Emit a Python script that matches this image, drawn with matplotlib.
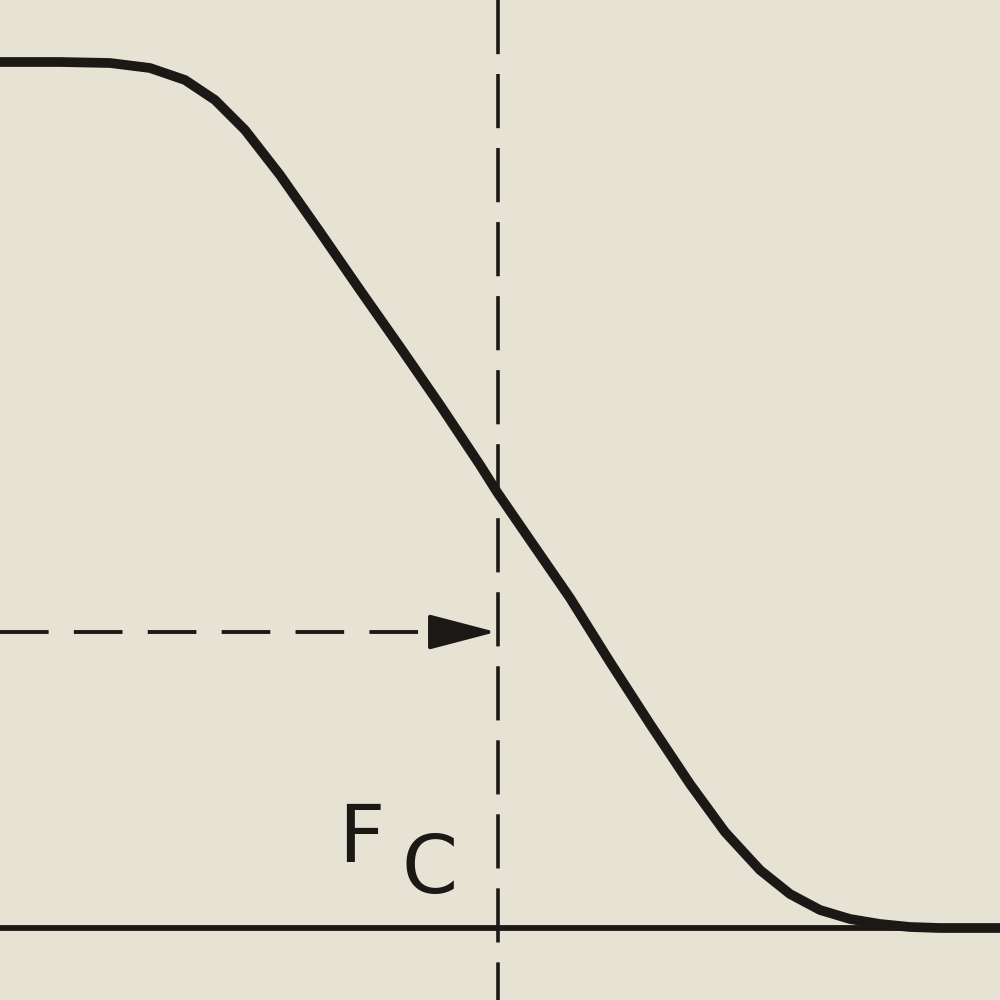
import matplotlib
matplotlib.use("Agg")
import matplotlib.pyplot as plt

# Response curve (x = frequency position, y = level, in picture units, y down)
curve_x = [0, 60, 110, 150, 185, 215, 245, 280, 320, 360, 400, 440, 480, 497,
           530, 570, 610, 650, 690, 725, 760, 790, 820, 850, 880, 910, 940, 1000]
curve_y = [62, 62, 63, 68, 80, 100, 130, 175, 232, 290, 347, 405, 465, 492,
           540, 598, 662, 724, 784, 832, 870, 894, 910, 919, 924, 927, 928, 928]

baseline_y = 928
cutoff_x = 498
arrow_y = 632
label_main = "F"
label_sub = "C"

bg = "#e6e2d4"
ink = "#1b1915"

fig = plt.figure(figsize=(10, 10), dpi=100)
fig.patch.set_facecolor(bg)
ax = fig.add_axes([0, 0, 1, 1])
ax.set_facecolor(bg)
ax.set_xlim(0, 1000)
ax.set_ylim(1000, 0)
ax.axis("off")

# baseline
ax.plot([0, 1000], [baseline_y, baseline_y], color=ink, lw=4.2, solid_capstyle="butt")

# cutoff dashed vertical line
ax.plot([cutoff_x, cutoff_x], [0, 1000], color=ink, lw=2.6,
        dashes=(15, 5.5), dash_capstyle="butt")

# dashed horizontal arrow
ax.plot([0, 440], [arrow_y, arrow_y], color=ink, lw=2.8,
        dashes=(12.5, 6.5), dash_capstyle="butt")
ax.annotate("", xy=(cutoff_x - 2, arrow_y), xytext=(432, arrow_y),
            arrowprops=dict(arrowstyle="-|>,head_length=4.2,head_width=1.1",
                            color=ink, lw=2.8, shrinkA=0, shrinkB=0))

# response curve
ax.plot(curve_x, curve_y, color=ink, lw=7, solid_capstyle="round",
        solid_joinstyle="round")

# label
ax.text(338, 862, label_main, fontsize=58, color=ink, family="DejaVu Sans",
        ha="left", va="baseline")
ax.text(402, 893, label_sub, fontsize=58, color=ink, family="DejaVu Sans",
        ha="left", va="baseline")

fig.savefig("out.png", dpi=100, facecolor=bg)
